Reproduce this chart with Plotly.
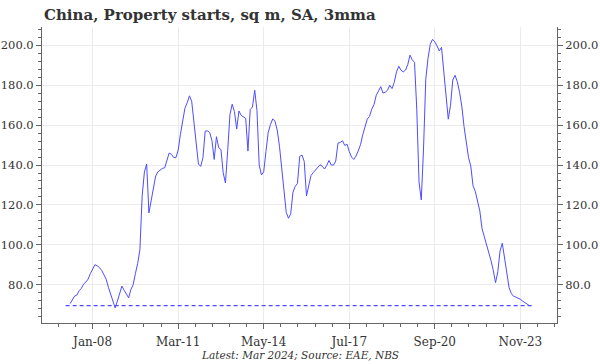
import pandas as pd
import plotly.graph_objects as go

# ---- data ----
start_month = "2007-03"
end_month = "2024-03"
starts_3mma = [
    70.5, 72.6, 74.3, 74.8, 77.0, 78.2, 80.3, 81.4, 82.8, 85.6,
    87.9, 90.0, 89.5, 88.6, 87.2, 85.3, 82.8, 78.7, 75.2, 71.6,
    68.4, 71.8, 75.7, 79.3, 77.2, 75.0, 73.4, 77.6, 80.0, 85.6,
    90.6, 97.6, 124.5, 136.5, 140.5, 116.0, 121.7, 128.3, 134.5, 136.6,
    137.7, 138.3, 138.6, 142.3, 146.0, 145.4, 143.8, 143.7, 147.5, 155.4,
    163.2, 168.5, 171.2, 174.7, 172.0, 161.8, 152.2, 140.5, 139.3, 143.7,
    157.0, 157.1, 156.3, 152.3, 142.8, 154.2, 148.7, 147.8, 136.1, 131.0,
    147.2, 165.3, 170.5, 166.8, 158.0, 167.1, 164.9, 164.2, 163.4, 147.0,
    167.8, 169.1, 177.5, 167.4, 140.0, 135.0, 136.6, 146.8, 156.3, 160.3,
    163.1, 162.0, 157.5, 149.4, 139.4, 127.9, 116.3, 113.3, 115.6, 126.4,
    129.3, 130.8, 144.3, 145.0, 141.8, 124.5, 129.5, 134.7, 136.2, 137.5,
    138.6, 140.1, 139.4, 138.0, 139.8, 142.3, 140.0, 140.0, 142.0, 151.0,
    151.3, 152.2, 149.8, 150.5, 146.8, 144.0, 142.8, 144.5, 147.1, 150.2,
    155.2, 159.0, 163.0, 164.4, 168.0, 170.3, 175.0, 177.1, 179.3, 176.1,
    176.5, 177.5, 180.0, 178.3, 181.5, 186.7, 189.5, 187.5, 186.7, 187.6,
    190.4, 195.1, 192.7, 191.5, 168.0, 131.5, 122.5, 148.0, 183.0, 193.5,
    200.5, 203.0, 201.8, 199.7, 197.2, 199.0, 186.5, 172.5, 163.0, 170.0,
    182.6, 185.0, 181.8, 176.5, 169.6, 159.3, 151.3, 143.7, 139.5, 129.6,
    126.8, 121.9, 117.0, 108.1, 104.2, 99.5, 95.7, 92.0, 87.1, 81.0,
    86.5, 96.9, 100.8, 93.0, 84.7, 78.6, 75.6, 74.2, 73.8, 73.3,
    72.7, 71.8, 71.2, 70.3, 69.5,
]
tick_labels = ["Jan-08", "Mar-11", "May-14", "Jul-17", "Sep-20", "Nov-23"]
tick_months = ["2008-01", "2011-03", "2014-05", "2017-07", "2020-09", "2023-11"]
ref_line_months = ["2007-01", "2024-05"]
title_text = "China, Property starts, sq m, SA, 3mma"
footer_text = "Latest: Mar 2024; Source: EAE, NBS"

# ---- helpers: month index relative to Jan 2008 ----
base = pd.Period("2008-01", freq="M")
def midx(p):
    return (pd.Period(p, freq="M") - base).n

periods = pd.period_range(start_month, end_month, freq="M")
xs = [(p - base).n for p in periods]
assert len(xs) == len(starts_3mma)
tickvals = [midx(m) for m in tick_months]
latest = starts_3mma[-1]

LINE = "#4d4dff"
AX = "#666666"
TXT = "#333333"
GRID = "#ebebeb"
FONT = "DejaVu Serif"

fig = go.Figure()
fig.add_trace(go.Scatter(
    x=xs, y=starts_3mma, mode="lines",
    line=dict(color=LINE, width=1), hoverinfo="skip", showlegend=False))
fig.add_trace(go.Scatter(
    x=[midx(m) for m in ref_line_months], y=[latest, latest], mode="lines",
    line=dict(color=LINE, width=1.2, dash="4px,3px"), yaxis="y2",
    hoverinfo="skip", showlegend=False))

yrange = [60.8, 209.2]
yax = dict(
    range=yrange, tickmode="linear", tick0=0, dtick=20, tickformat=".1f",
    showgrid=True, gridcolor=GRID, gridwidth=1, zeroline=False, automargin=False,
    showline=True, linecolor=AX, linewidth=1,
    ticks="outside", ticklen=5, tickcolor=AX, tickwidth=1,
    minor=dict(dtick=4, tick0=0, ticks="outside", ticklen=3, tickcolor=AX, showgrid=False),
    tickfont=dict(family=FONT, size=11.5, color=TXT),
)
fig.update_layout(
    width=600, height=364,
    margin=dict(l=42, r=43, t=27, b=41, autoexpand=False),
    paper_bgcolor="white", plot_bgcolor="white",
    xaxis=dict(
        range=[-22.5, 206.3], tickmode="array", tickvals=tickvals, ticktext=tick_labels,
        showgrid=True, gridcolor=GRID, gridwidth=1, zeroline=False, automargin=False,
        showline=True, linecolor=AX, linewidth=1,
        ticks="outside", ticklen=5, tickcolor=AX, tickwidth=1, ticklabelstandoff=3,
        minor=dict(dtick=7.6, tick0=0, ticks="outside", ticklen=3, tickcolor=AX, showgrid=False),
        tickfont=dict(family=FONT, size=12, color=TXT),
    ),
    yaxis=yax,
    yaxis2=dict(yax, overlaying="y", side="right", showgrid=False),
    annotations=[
        dict(text="<b>" + title_text + "</b>", xref="paper", yref="paper", x=0, y=1,
             xanchor="left", yanchor="bottom", yshift=1, showarrow=False,
             font=dict(family=FONT, size=15, color=TXT)),
        dict(text="<i>" + footer_text + "</i>", xref="paper", yref="paper", x=0.5, y=0,
             xanchor="center", yanchor="middle", yshift=-32, showarrow=False,
             font=dict(family=FONT, size=10.5, color=TXT)),
    ],
)
fig.write_html("out.html", config={"displayModeBar": False},
               post_script="document.body.style.margin='0px';")
